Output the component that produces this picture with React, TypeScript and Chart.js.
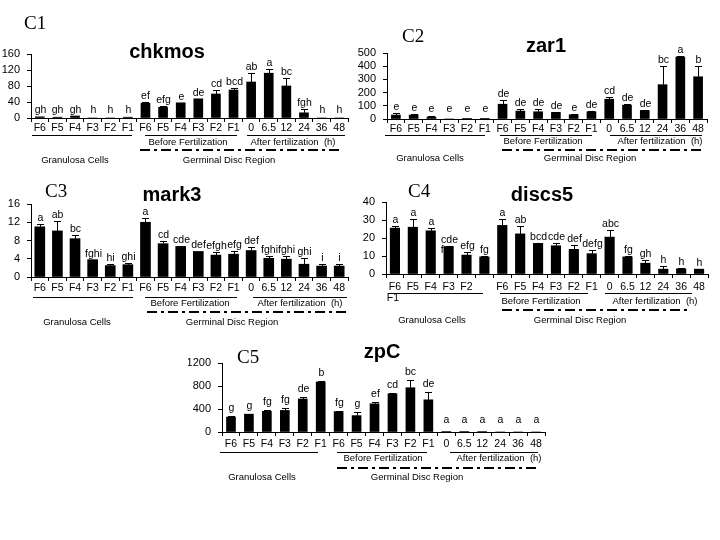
import React, { useEffect, useRef } from "react";
import { Chart, registerables } from "chart.js";

Chart.register(...registerables);

// ---------- data ----------
const categories = ["F6", "F5", "F4", "F3", "F2", "F1", "F6", "F5", "F4", "F3", "F2", "F1", "0", "6.5", "12", "24", "36", "48"];

const chkmosValues = [3, 2, 5, 0, 0, 2, 37, 27, 38, 48, 60, 70, 90, 112, 80, 13, 0, 0];
const chkmosErrors = [0, 0, 0, 0, 0, 0, 2, 2, 0, 0, 10, 5, 22, 11, 19, 9, 0, 0];
const chkmosLetters = ["gh", "gh", "gh", "h", "h", "h", "ef", "efg", "e", "de", "cd", "bcd", "ab", "a", "bc", "fgh", "h", "h"];

const zar1Values = [30, 30, 15, 0, 5, 5, 112, 60, 55, 50, 32, 55, 150, 105, 65, 260, 470, 320];
const zar1Errors = [15, 5, 5, 0, 0, 0, 30, 15, 20, 3, 3, 3, 20, 5, 5, 140, 5, 80];
const zar1Letters = ["e", "e", "e", "e", "e", "e", "de", "de", "de", "de", "e", "de", "cd", "de", "de", "bc", "a", "b"];

const mark3Values = [11, 10.1, 8.4, 3.8, 2.5, 2.7, 12, 7.3, 6.7, 5.6, 4.8, 5.0, 5.8, 4.1, 3.9, 2.8, 2.4, 2.4];
const mark3Errors = [0.6, 2.2, 0.7, 0, 0.4, 0.4, 1, 0.7, 0.2, 0, 0.7, 0.6, 0.7, 0.4, 0.8, 1.3, 0.4, 0.4];
const mark3Letters = ["a", "ab", "bc", "fghi", "hi", "ghi", "a", "cd", "cde", "def", "efgh", "efg", "def", "fghi", "fghi", "ghi", "i", "i"];

const discs5Values = [25.5, 26, 24, 15.3, 10.5, 9.5, 27, 22.3, 17, 15.7, 13.7, 11.3, 20.5, 9.5, 6, 2.7, 2.9, 2.7];
const discs5Errors = [1, 4.5, 1.3, 0.5, 1.8, 0.3, 3.3, 4.4, 0.3, 1.6, 2.6, 1.8, 4, 0.3, 1.7, 1.8, 0.4, 0];
const discs5Letters = ["a", "a", "a", "cde\nf", "efg", "fg", "a", "ab", "bcd", "cde", "def", "defg", "abc", "fg", "gh", "h", "h", "h"];

const zpCValues = [260, 310, 360, 375, 575, 870, 355, 285, 490, 665, 770, 560, 10, 10, 8, 0, 0, 0];
const zpCErrors = [10, 10, 30, 35, 35, 15, 15, 55, 35, 15, 140, 130, 0, 0, 0, 0, 0, 0];
const zpCLetters = ["g", "g", "fg", "fg", "de", "b", "fg", "g", "ef", "cd", "bc", "de", "a", "a", "a", "a", "a", "a"];

const beforeLabel = "Before Fertilization";
const afterLabel = "After fertilization  (h)";
const granLabel = "Granulosa Cells";
const gdrLabel = "Germinal Disc Region";

// ---------- layout / style ----------
const SANS = "'Liberation Sans', Arial, Helvetica, sans-serif";
const SERIF = "'Liberation Serif', 'Times New Roman', serif";
const W = 720;
const H = 540;
const Y_W = 34;
const X_H = 22;

type Spec = {
  key: string; tag: string; title: string;
  values: number[]; errors: number[]; letters: string[];
  yMax: number; yStep: number;
  area: { left: number; right: number; top: number; bottom: number };
  bar: number; xPad: number; gap: number; minGap: number;
  tagPos: [number, number]; titlePos: [number, number];
  rowY: number; granLine: [number, number]; beforeLine: [number, number]; afterLine: [number, number];
  textY: number; beforeX: number; afterX: number;
  dashY: number; dash: [number, number];
  bottomY: number; granX: number; gdrX: number;
  hideTick?: number; extra?: { text: string; x: number; y: number };
};

const specs: Spec[] = [
  {
    key: "c1", tag: "C1", title: "chkmos",
    values: chkmosValues, errors: chkmosErrors, letters: chkmosLetters,
    yMax: 160, yStep: 40,
    area: { left: 31, right: 348, top: 54, bottom: 118 },
    bar: 9, xPad: 0, gap: 3, minGap: 5,
    tagPos: [24, 29], titlePos: [167, 58],
    rowY: 135, granLine: [32, 132], beforeLine: [145, 237], afterLine: [247, 345],
    textY: 142, beforeX: 188, afterX: 293,
    dashY: 150, dash: [140, 343],
    bottomY: 160, granX: 75, gdrX: 229,
  },
  {
    key: "c2", tag: "C2", title: "zar1",
    values: zar1Values, errors: zar1Errors, letters: zar1Letters,
    yMax: 500, yStep: 100,
    area: { left: 387, right: 707, top: 53, bottom: 119 },
    bar: 9, xPad: 0, gap: 3, minGap: 7,
    tagPos: [402, 42], titlePos: [546, 52],
    rowY: 135, granLine: [385, 485], beforeLine: [500, 592], afterLine: [610, 702],
    textY: 141, beforeX: 543, afterX: 660,
    dashY: 150, dash: [502, 703],
    bottomY: 158, granX: 430, gdrX: 590,
  },
  {
    key: "c3", tag: "C3", title: "mark3",
    values: mark3Values, errors: mark3Errors, letters: mark3Letters,
    yMax: 16, yStep: 4,
    area: { left: 31, right: 348, top: 204, bottom: 277 },
    bar: 10, xPad: 0.5, gap: 3, minGap: 5,
    tagPos: [45, 197], titlePos: [172, 201],
    rowY: 297, granLine: [33, 133], beforeLine: [145, 237], afterLine: [253, 347],
    textY: 303, beforeX: 190, afterX: 300,
    dashY: 312, dash: [147, 350],
    bottomY: 322, granX: 77, gdrX: 232,
  },
  {
    key: "c4", tag: "C4", title: "discs5",
    values: discs5Values, errors: discs5Errors, letters: discs5Letters,
    yMax: 40, yStep: 10,
    area: { left: 386, right: 708, top: 202, bottom: 274 },
    bar: 9.5, xPad: 3, gap: 3, minGap: 5,
    tagPos: [408, 197], titlePos: [542, 201],
    rowY: 293, granLine: [388, 483], beforeLine: [500, 588], afterLine: [605, 692],
    textY: 301, beforeX: 541, afterX: 655,
    dashY: 310, dash: [502, 688],
    bottomY: 320, granX: 432, gdrX: 580,
    hideTick: 5, extra: { text: "F1", x: 393, y: 298 },
  },
  {
    key: "c5", tag: "C5", title: "zpC",
    values: zpCValues, errors: zpCErrors, letters: zpCLetters,
    yMax: 1200, yStep: 400,
    area: { left: 222, right: 545, top: 363, bottom: 432 },
    bar: 9, xPad: 1.5, gap: 5, minGap: 9,
    tagPos: [237, 363], titlePos: [382, 358],
    rowY: 452, granLine: [220, 318], beforeLine: [337, 427], afterLine: [450, 538],
    textY: 458, beforeX: 383, afterX: 499,
    dashY: 468, dash: [337, 540],
    bottomY: 477, granX: 262, gdrX: 417,
  },
];

function hLine(ctx: CanvasRenderingContext2D, x1: number, x2: number, y: number) {
  ctx.beginPath();
  ctx.moveTo(x1, Math.round(y) + 0.5);
  ctx.lineTo(x2, Math.round(y) + 0.5);
  ctx.stroke();
}

function makePlugin(s: Spec) {
  return {
    id: "annot_" + s.key,
    afterDatasetsDraw(chart: any) {
      const ctx: CanvasRenderingContext2D = chart.ctx;
      const xs = chart.scales.x;
      const ys = chart.scales.y;
      const zero = ys.getPixelForValue(0);
      ctx.save();
      ctx.strokeStyle = "#000";
      ctx.fillStyle = "#000";
      ctx.lineWidth = 1;
      s.values.forEach((v, i) => {
        const x = Math.round(xs.getPixelForValue(i)) + 0.5;
        const yBar = ys.getPixelForValue(v);
        const e = s.errors[i];
        let yTop = yBar;
        if (e > 0) {
          yTop = ys.getPixelForValue(v + e);
          const yt = Math.round(yTop) + 0.5;
          ctx.beginPath();
          ctx.moveTo(x, yBar);
          ctx.lineTo(x, yt);
          ctx.moveTo(x - 3.5, yt);
          ctx.lineTo(x + 3.5, yt);
          ctx.stroke();
        }
        const lines = s.letters[i].split("\n");
        ctx.font = "10.5px " + SANS;
        ctx.textBaseline = "alphabetic";
        ctx.textAlign = "center";
        const base = Math.min(yTop - s.gap, zero - s.minGap);
        ctx.fillText(lines[0], x, base);
        if (lines[1]) {
          ctx.textAlign = "right";
          ctx.fillText(lines[1], x - s.bar / 2 - 1, base + 10);
        }
      });
      ctx.restore();
    },
    afterDraw(chart: any) {
      const ctx: CanvasRenderingContext2D = chart.ctx;
      ctx.save();
      ctx.fillStyle = "#000";
      ctx.strokeStyle = "#000";
      // panel tag
      ctx.font = "19px " + SERIF;
      ctx.textAlign = "left";
      ctx.textBaseline = "alphabetic";
      ctx.fillText(s.tag, s.tagPos[0], s.tagPos[1]);
      // title
      ctx.font = "bold 20px " + SANS;
      ctx.textAlign = "center";
      ctx.fillText(s.title, s.titlePos[0], s.titlePos[1]);
      // group lines
      ctx.lineWidth = 1;
      hLine(ctx, s.granLine[0], s.granLine[1], s.rowY);
      hLine(ctx, s.beforeLine[0], s.beforeLine[1], s.rowY);
      hLine(ctx, s.afterLine[0], s.afterLine[1], s.rowY);
      ctx.font = "9.5px " + SANS;
      ctx.textBaseline = "middle";
      ctx.fillText(beforeLabel, s.beforeX, s.textY);
      ctx.fillText(afterLabel, s.afterX, s.textY);
      ctx.fillText(granLabel, s.granX, s.bottomY);
      ctx.fillText(gdrLabel, s.gdrX, s.bottomY);
      if (s.extra) {
        ctx.font = "10.5px " + SANS;
        ctx.fillText(s.extra.text, s.extra.x, s.extra.y);
      }
      // dash-dot line
      ctx.lineWidth = 2;
      ctx.setLineDash([10, 4, 3, 4]);
      ctx.beginPath();
      ctx.moveTo(s.dash[0], s.dashY);
      ctx.lineTo(s.dash[1], s.dashY);
      ctx.stroke();
      ctx.setLineDash([]);
      ctx.restore();
    },
  };
}

function buildConfig(s: Spec): any {
  return {
    type: "bar",
    data: {
      labels: categories,
      datasets: [
        {
          data: s.values,
          backgroundColor: "#000",
          borderWidth: 0,
          barThickness: s.bar,
        },
      ],
    },
    options: {
      responsive: false,
      maintainAspectRatio: false,
      animation: false,
      events: [],
      layout: {
        padding: {
          left: s.area.left - Y_W,
          right: W - s.area.right,
          top: s.area.top,
          bottom: H - s.area.bottom - X_H,
        },
      },
      plugins: {
        legend: { display: false },
        tooltip: { enabled: false },
        title: { display: false },
      },
      scales: {
        x: {
          type: "category",
          offset: true,
          grid: {
            offset: true,
            drawOnChartArea: false,
            drawTicks: true,
            tickLength: 4,
            color: "#000",
            lineWidth: 1,
          },
          border: { display: true, color: "#000", width: 1 },
          ticks: {
            color: "#000",
            font: { family: SANS, size: 10.5 },
            padding: s.xPad,
            maxRotation: 0,
            minRotation: 0,
            autoSkip: false,
            callback: function (this: any, value: any, index: number) {
              if (s.hideTick === index) return "";
              return categories[index];
            },
          },
          afterFit: (scale: any) => {
            scale.height = X_H;
          },
        },
        y: {
          type: "linear",
          min: 0,
          max: s.yMax,
          grid: {
            drawOnChartArea: false,
            drawTicks: true,
            tickLength: 4,
            color: "#000",
            lineWidth: 1,
          },
          border: { display: true, color: "#000", width: 1 },
          ticks: {
            stepSize: s.yStep,
            autoSkip: false,
            color: "#000",
            font: { family: SANS, size: 11 },
            padding: 7,
            callback: (v: any) => String(v),
          },
          afterFit: (scale: any) => {
            scale.width = Y_W;
          },
        },
      },
    },
    plugins: [makePlugin(s)],
  };
}

function PanelChart({ spec }: { spec: Spec }) {
  const ref = useRef<HTMLCanvasElement | null>(null);
  useEffect(() => {
    if (!ref.current) return;
    const chart = new Chart(ref.current, buildConfig(spec));
    return () => chart.destroy();
  }, [spec]);
  return (
    <canvas
      ref={ref}
      width={W}
      height={H}
      style={{ position: "absolute", left: 0, top: 0, width: W, height: H }}
    />
  );
}

export default function App() {
  return (
    <div
      style={{
        position: "fixed",
        left: 0,
        top: 0,
        width: W,
        height: H,
        background: "#fff",
        overflow: "hidden",
      }}
    >
      {specs.map((s) => (
        <PanelChart key={s.key} spec={s} />
      ))}
    </div>
  );
}
